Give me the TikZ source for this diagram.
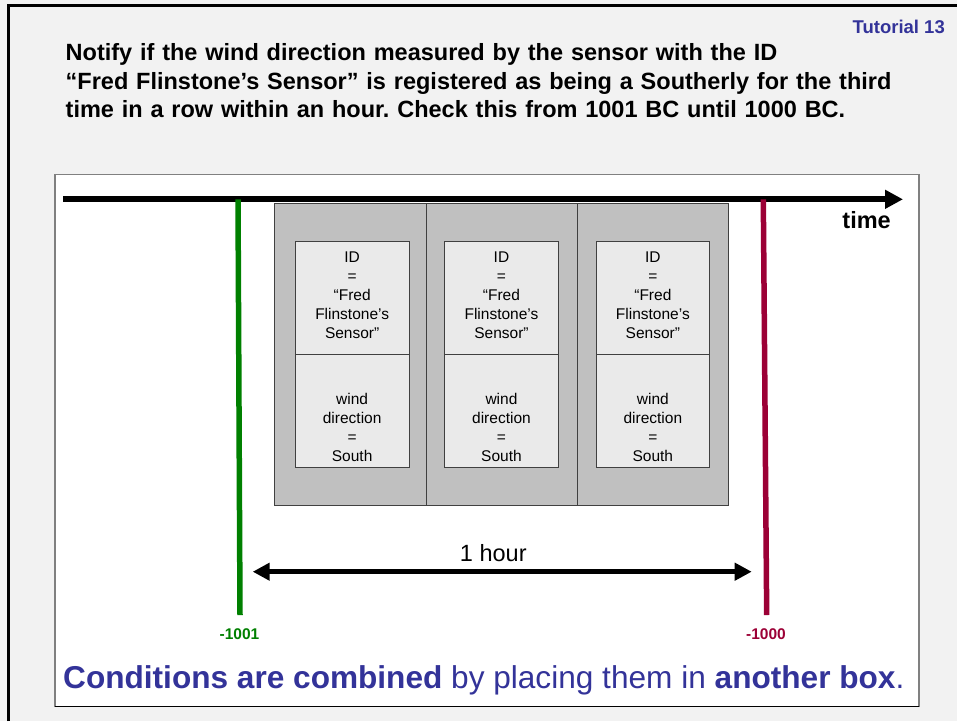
\documentclass[tikz,border=0pt]{standalone}
\usepackage{fontspec}
\setmainfont{Liberation Sans}
\usetikzlibrary{arrows.meta}
\definecolor{pagebg}{HTML}{F2F2F2}
\definecolor{navy}{HTML}{333399}
\definecolor{startgreen}{HTML}{008000}
\definecolor{endred}{HTML}{9C0036}
\definecolor{boxgray}{HTML}{C0C0C0}
\definecolor{cellgray}{HTML}{EAEAEA}
\definecolor{edgegray}{HTML}{404040}
\definecolor{framegray}{HTML}{808080}
\frenchspacing
\begin{document}
\begin{tikzpicture}[x=1pt,y=-1pt,
  evbox/.style={draw=edgegray, fill=boxgray, line width=0.8pt, anchor=north west, inner sep=0, minimum width=151.3pt, minimum height=302.3pt},
  cellbox/.style={draw=edgegray, fill=cellgray, line width=0.8pt, anchor=north west, inner sep=0, minimum width=113.5pt, minimum height=113.3pt},
  celltext/.style={font=\fontsize{15.5}{19}\selectfont, align=center, text width=112pt, anchor=base, inner sep=0},
  bigarrow/.style={line width=6pt, -{Triangle[length=18pt,width=18pt]}},
  spanarrow/.style={line width=5.5pt, {Triangle[length=17pt,width=17pt]}-{Triangle[length=17pt,width=17pt]}},
  boundline/.style={line width=5.5pt},
  boundlabel/.style={font=\fontsize{15.5}{18}\selectfont\bfseries, anchor=base, inner sep=0}
]
\useasboundingbox (0,0) rectangle (957,721);
\fill[pagebg] (0,0) rectangle (957,721);
\draw[black, line width=3pt] (8,721) -- (8,5) -- (957,5);

\node[anchor=base east, inner sep=0, text=navy, font=\fontsize{18.5}{22}\selectfont\bfseries] (tut) at (945,33) {Tutorial 13};
\node[anchor=base west, inner sep=0, align=left, text width=880pt, font=\fontsize{23.5}{28.3}\selectfont\bfseries] (title) at (65.5,60.7)
  {Notify if the wind direction measured by the sensor with the ID\\
   “Fred Flinstone’s Sensor” is registered as being a Southerly for the third\\
   time in a row within an hour. Check this from 1001 BC until 1000 BC.};

% inner white panel
\fill[white] (55,174.7) rectangle (919,706.7);
\draw[framegray, line width=1.5pt] (55,706.7) -- (55,174.7) -- (919,174.7) -- (919,706.7);
\draw[black, line width=1pt] (55,706.7) -- (919,706.7);

% event boxes
\node[evbox] (ev1) at (274.3,202.7) {};
\node[evbox] (ev2) at (425.7,202.7) {};
\node[evbox] (ev3) at (576.7,202.7) {};

\foreach \i/\cx in {1/295, 2/444.3, 3/595.7} {
  \node[cellbox] (id\i) at (\cx,240.7) {};
  \node[cellbox] (wd\i) at (\cx,354) {};
  \node[celltext] (idt\i) at (id\i.north |- 0,262) {ID\\=\\“Fred\\Flinstone’s\\Sensor”};
  \node[celltext] (wdt\i) at (wd\i.north |- 0,404.3) {wind\\direction\\=\\South};
}

% time axis
\coordinate (axstart) at (63,199.3);
\coordinate (axend) at (903,199.3);
\draw[bigarrow] (axstart) -- (axend);
\node[anchor=base east, inner sep=0, font=\fontsize{23.5}{28}\selectfont\bfseries] (timelbl) at (891,228) {time};

% boundary lines
\coordinate (gtop) at (238,199.3);
\coordinate (gbot) at (240,615);
\coordinate (rtop) at (763.3,199.3);
\coordinate (rbot) at (766.7,615);
\draw[boundline, startgreen] (gtop) -- (gbot);
\draw[boundline, endred] (rtop) -- (rbot);
\node[boundlabel, text=startgreen] (lstart) at (239.5,639) {-1001};
\node[boundlabel, text=endred] (lend) at (766,639) {-1000};

% one hour span
\coordinate (hl) at (252.7,571.7);
\coordinate (hr) at (751.7,571.7);
\draw[spanarrow] (hl) -- (hr);
\node[anchor=base, inner sep=0, font=\fontsize{23.5}{28}\selectfont] (hourlbl) at (493.3,561.7) {1 hour};

% bottom remark
\node[anchor=base west, inner sep=0, text=navy, font=\fontsize{31.6}{36}\selectfont] (remark) at (63,688)
  {\textbf{Conditions are combined} by placing them in \textbf{another box}.};
\end{tikzpicture}
\end{document}
